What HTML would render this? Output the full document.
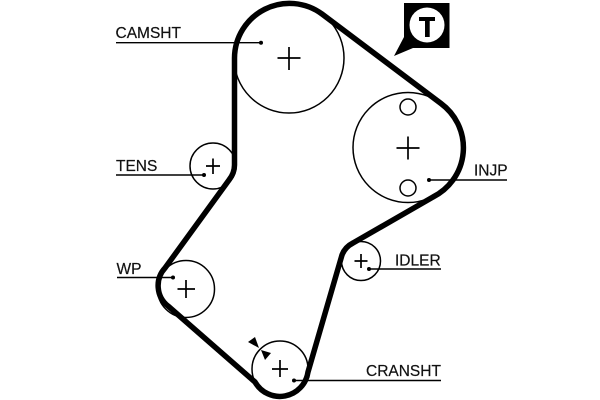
<!DOCTYPE html>
<html>
<head>
<meta charset="utf-8">
<style>
html,body{margin:0;padding:0;background:#fff;}
svg{display:block;}
text{font-family:"Liberation Sans",sans-serif;font-size:15.5px;fill:#111;stroke:#111;stroke-width:.2;}
</style>
</head>
<body>
<svg width="600" height="400" viewBox="0 0 600 400" xmlns="http://www.w3.org/2000/svg">
<rect width="600" height="400" fill="#fff"/>
<g fill="none" stroke="#000" stroke-width="1.500">
<circle cx="289" cy="58" r="55"/>
<circle cx="408" cy="147.500" r="55"/>
<circle cx="213" cy="166" r="23"/>
<circle cx="186" cy="289" r="28.500"/>
<circle cx="280" cy="369" r="28"/>
<circle cx="361" cy="261" r="19.500"/>
<circle cx="408" cy="107" r="8"/>
<circle cx="408" cy="188" r="8"/>
<path d="M277.500 58H300.500M289 47V70M396.500 148H419.500M408 136.500V159.500M206 166H220M213 158.500V174M177.500 289H195M186 280V298M272 369H288M280 360V377M354.500 261H367.500M361 254V268" stroke-width="1.700"/>
</g>
<path d="M234.500 165V58A55 55 0 0 1 322 14L441 103.500A55 55 0 0 1 433 197L353 243Q345 247 342 255L308 372A28.500 28.500 0 0 1 255 382L168 306A26 26 0 0 1 165 268L229 180Q234.500 173 234.500 165Z" fill="none" stroke="#000" stroke-width="5.500" stroke-linejoin="round"/>
<g fill="none" stroke="#000" stroke-width="1.400">
<path d="M116 42.700H261M116 175H204M117 277.500H173M429 180H507M369 269H441M294 380.500H441"/>
</g>
<g fill="#000">
<circle cx="261" cy="42.700" r="2"/>
<circle cx="204" cy="175" r="2"/>
<circle cx="173" cy="277.500" r="2"/>
<circle cx="429" cy="180" r="2"/>
<circle cx="369" cy="269" r="2"/>
<circle cx="294" cy="380.500" r="2"/>
<path d="M248 342L255 337L259 348Z"/>
<path d="M261 350L271 353L265 360Z"/>
<path d="M404 3H449.500V48H413L394 56L404 37Z"/>
</g>
<circle cx="427" cy="25" r="17.500" fill="#fff"/>
<path d="M419 17H435V21H429.700V37H425V21H419Z" fill="#000"/>
<text x="115.500" y="38">CAMSHT</text>
<text x="116" y="171">TENS</text>
<text x="116.500" y="274">WP</text>
<text x="474" y="175.500">INJP</text>
<text x="395" y="265.500">IDLER</text>
<text x="366" y="376">CRANSHT</text>
</svg>
</body>
</html>
